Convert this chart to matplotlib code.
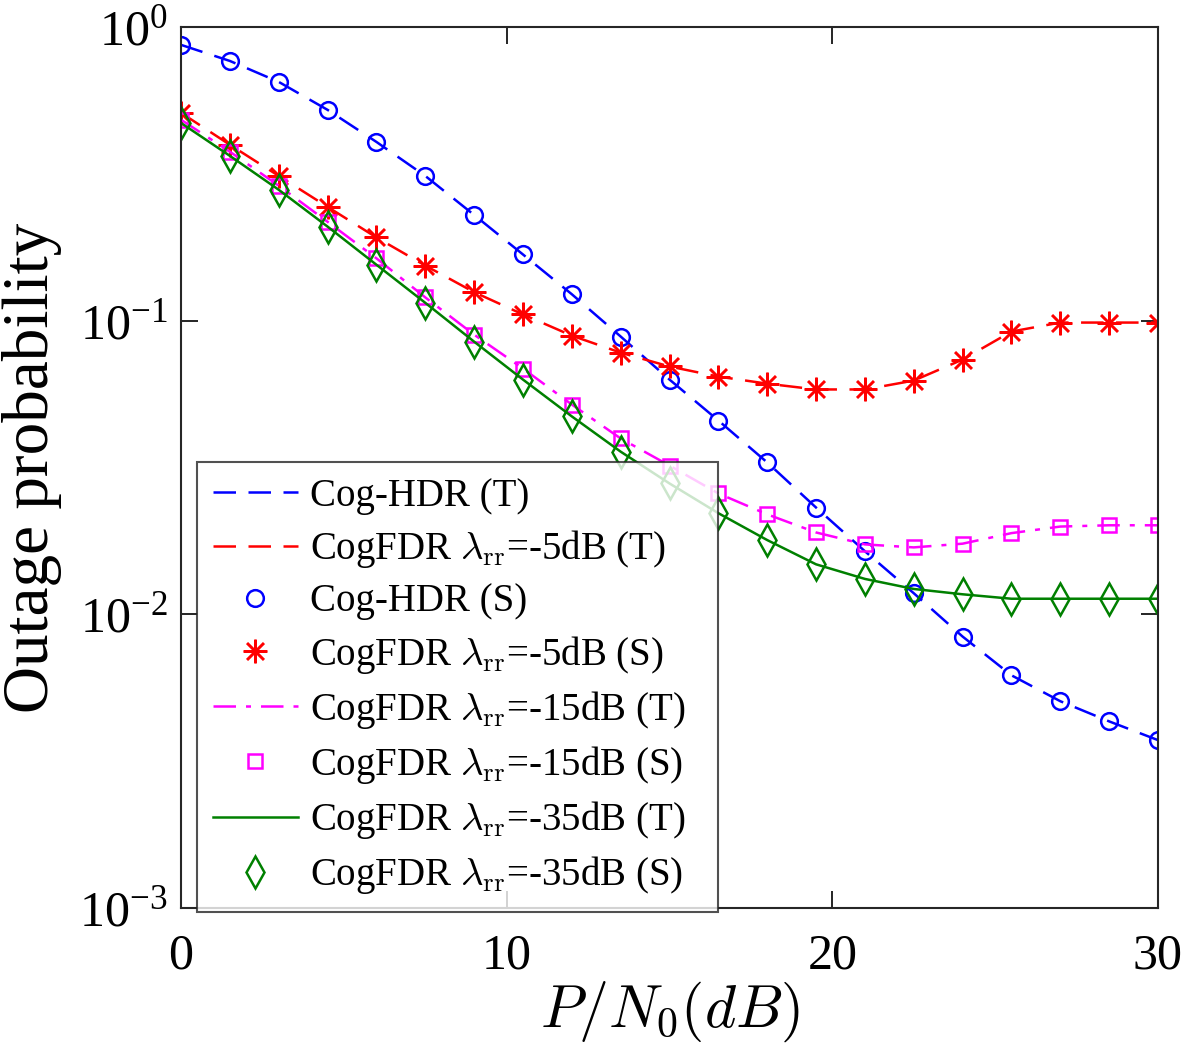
import numpy as np
import matplotlib
matplotlib.use("Agg")
import matplotlib.pyplot as plt

plt.rcParams['font.family'] = ['Liberation Serif', 'DejaVu Serif']
plt.rcParams['mathtext.fontset'] = 'cm'

snr = [0, 1.5, 3, 4.5, 6, 7.5, 9, 10.5, 12, 13.5, 15, 16.5, 18, 19.5, 21, 22.5, 24, 25.5, 27, 28.5, 30]

hdr = [0.869, 0.766, 0.650, 0.522, 0.406, 0.311, 0.229, 0.168, 0.123, 0.0883, 0.0630,
       0.0457, 0.0329, 0.0231, 0.0164, 0.0118, 0.0084, 0.0062, 0.00506, 0.00432, 0.00373]
fdr5 = [0.510, 0.397, 0.311, 0.244, 0.192, 0.154, 0.125, 0.105, 0.0889, 0.0778, 0.0698,
        0.0645, 0.0610, 0.0583, 0.0583, 0.0625, 0.0737, 0.0918, 0.0985, 0.0985, 0.0985]
fdr15 = [0.483, 0.376, 0.288, 0.217, 0.163, 0.120, 0.0896, 0.0687, 0.0518, 0.0397, 0.0321,
         0.0258, 0.0219, 0.0190, 0.0173, 0.0169, 0.0174, 0.0189, 0.0199, 0.0201, 0.0201]
fdr35 = [0.471, 0.364, 0.279, 0.209, 0.155, 0.115, 0.0848, 0.0630, 0.0472, 0.0358, 0.0279,
         0.0221, 0.0179, 0.0148, 0.0132, 0.0122, 0.0117, 0.0113, 0.0113, 0.0113, 0.0113]

blue = '#0000ff'
red = '#ff0000'
mag = '#ff00ff'
green = '#008000'
lw = 1.8
ms = 12

fig = plt.figure(figsize=(11.81, 10.53), dpi=100)
ax = fig.add_axes([0.1533, 0.1377, 0.8272, 0.8367])

ax.plot(snr, hdr, color=blue, lw=lw, dashes=(9, 5), label='Cog-HDR (T)')
ax.plot(snr, fdr5, color=red, lw=lw, dashes=(9, 5), label=r'CogFDR $\lambda_{\mathrm{rr}}$=-5dB (T)')
ax.plot(snr, hdr, ls='none', marker='o', ms=ms, mfc='none', mec=blue, mew=lw, label='Cog-HDR (S)')
ax.plot(snr, fdr5, ls='none', marker=(8, 2, 0), ms=ms + 5, mfc=red, mec=red, mew=lw,
        label=r'CogFDR $\lambda_{\mathrm{rr}}$=-5dB (S)')
ax.plot(snr, fdr15, color=mag, lw=lw, dashes=(9, 4, 2, 4), label=r'CogFDR $\lambda_{\mathrm{rr}}$=-15dB (T)')
ax.plot(snr, fdr15, ls='none', marker='s', ms=ms - 2, mfc='none', mec=mag, mew=lw,
        label=r'CogFDR $\lambda_{\mathrm{rr}}$=-15dB (S)')
ax.plot(snr, fdr35, color=green, lw=lw, label=r'CogFDR $\lambda_{\mathrm{rr}}$=-35dB (T)')
ax.plot(snr, fdr35, ls='none', marker='d', ms=ms + 4, mfc='none', mec=green, mew=lw,
        label=r'CogFDR $\lambda_{\mathrm{rr}}$=-35dB (S)')

ax.set_yscale('log')
ax.set_xlim(0, 30)
ax.set_ylim(1e-3, 1)
ax.set_xticks([0, 10, 20, 30])
ax.set_yticks([1e-3, 1e-2, 1e-1, 1])
ax.yaxis.set_minor_locator(matplotlib.ticker.NullLocator())
ax.tick_params(direction='in', length=12, width=1.2, labelsize=36, top=True, right=True)
ax.tick_params(axis='x', pad=18)
ax.tick_params(axis='y', pad=10)
for s in ax.spines.values():
    s.set_linewidth(1.5)
    s.set_color('#262626')

ax.set_xlabel(r'$P/N_0(dB)$', fontsize=43, labelpad=0)
ax.set_ylabel('Outage probability', fontsize=47, labelpad=12)

leg = ax.legend(loc='lower left', bbox_to_anchor=(197 / 1181, 141 / 1053, 521 / 1181, 0.4),
                bbox_transform=fig.transFigure, mode='expand',
                fontsize=28, frameon=True, fancybox=False, edgecolor='#262626',
                handlelength=2.2, handletextpad=0.3, labelspacing=0.34, borderpad=0.4,
                borderaxespad=0)
leg.get_frame().set_linewidth(1.5)

fig.savefig('out.png', dpi=100)
